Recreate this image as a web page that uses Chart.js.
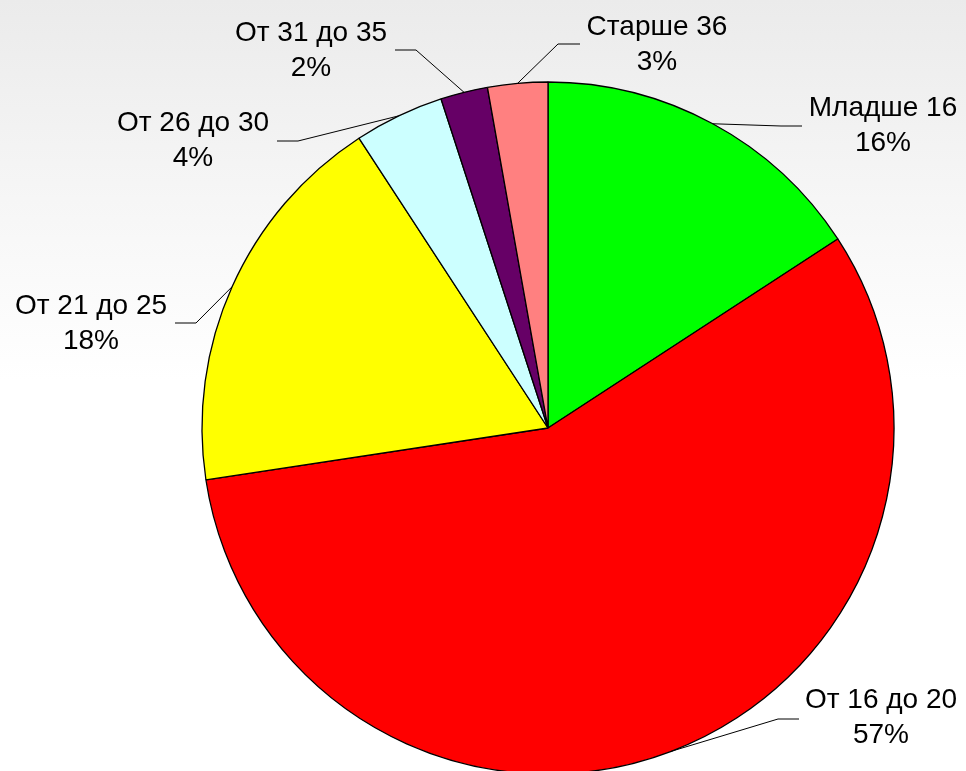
<!DOCTYPE html>
<html>
<head>
<meta charset="utf-8">
<script src="https://cdn.jsdelivr.net/npm/chart.js@4.4.0/dist/chart.umd.min.js"></script>
<style>
  html, body { margin: 0; padding: 0; }
  body { width: 966px; height: 771px; background: linear-gradient(to bottom, #ebebeb 0px, #f6f6f6 200px, #ffffff 380px, #ffffff 771px); overflow: hidden; }
  #wrap { width: 966px; height: 771px; position: relative; }
</style>
</head>
<body>
<div id="wrap"><canvas id="c" width="966" height="771"></canvas></div>
<script>
// Data
const categories = ["Младше 16", "От 16 до 20", "От 21 до 25", "От 26 до 30", "От 31 до 35", "Старше 36"];
const shares = [15.8, 56.8, 18.2, 4.2, 2.2, 2.8];
const sliceColors = ["#00ff00", "#ff0000", "#ffff00", "#ccffff", "#660066", "#ff8080"];

// Label layout (text block centre, first-line middle, elbow and horizontal end of leader)
const labelLayout = [
  { x: 883, y: 108, ex: 781, ey: 126, hx: 802 },
  { x: 881, y: 700, ex: 778, ey: 719, hx: 799 },
  { x: 91,  y: 306, ex: 196, ey: 323, hx: 175 },
  { x: 193, y: 123, ex: 298, ey: 141, hx: 277 },
  { x: 311, y: 33,  ex: 416, ey: 50,  hx: 395 },
  { x: 657, y: 27,  ex: 558, ey: 44,  hx: 580 }
];

const labelPlugin = {
  id: 'outLabels',
  afterDatasetsDraw(chart) {
    const ctx = chart.ctx;
    const meta = chart.getDatasetMeta(0);
    const data = chart.data.datasets[0].data;
    const total = data.reduce((a, b) => a + b, 0);
    ctx.save();
    meta.data.forEach((arc, i) => {
      const p = arc.getProps(['x', 'y', 'startAngle', 'endAngle', 'outerRadius'], true);
      const mid = (p.startAngle + p.endAngle) / 2;
      const ax = p.x + Math.cos(mid) * p.outerRadius;
      const ay = p.y + Math.sin(mid) * p.outerRadius;
      const L = labelLayout[i];
      ctx.strokeStyle = '#000';
      ctx.lineWidth = 1;
      ctx.beginPath();
      ctx.moveTo(ax, ay);
      ctx.lineTo(L.ex, L.ey);
      ctx.lineTo(L.hx, L.ey);
      ctx.stroke();
      ctx.fillStyle = '#000';
      ctx.font = '28px "Liberation Sans", Arial, sans-serif';
      ctx.textAlign = 'center';
      ctx.textBaseline = 'middle';
      ctx.fillText(chart.data.labels[i], L.x, L.y);
      ctx.fillText(Math.round(data[i] / total * 100) + '%', L.x, L.y + 35);
    });
    ctx.restore();
  }
};

new Chart(document.getElementById('c'), {
  type: 'pie',
  data: {
    labels: categories,
    datasets: [{
      data: shares,
      backgroundColor: sliceColors,
      borderColor: '#000000',
      borderWidth: 1.3,
      hoverOffset: 0,
      radius: 346,
      clip: false
    }]
  },
  options: {
    responsive: false,
    animation: false,
    layout: { padding: { left: 130, right: 0, top: 85, bottom: 0 } },
    plugins: {
      legend: { display: false },
      tooltip: { enabled: false }
    },
    events: []
  },
  plugins: [labelPlugin]
});
</script>
</body>
</html>
